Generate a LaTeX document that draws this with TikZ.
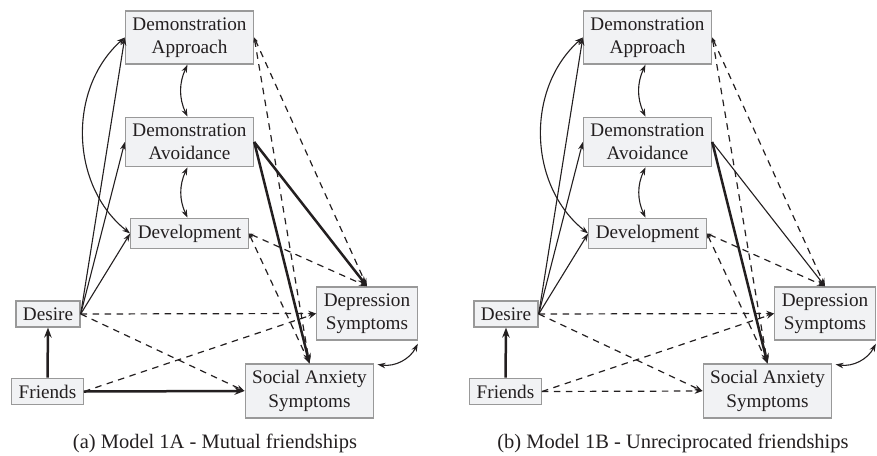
\documentclass[tikz,border=0pt]{standalone}
\usepackage{fontspec}
\setmainfont{Liberation Serif}
\usepackage{tikz}
\usetikzlibrary{arrows.meta}

\definecolor{boxfill}{HTML}{F1F2F4}
\definecolor{boxline}{HTML}{999999}
\definecolor{ink}{HTML}{231F20}

\tikzset{
	>={Stealth[length=8pt,width=5.5pt]},
	var/.style={draw=boxline, fill=boxfill, line width=1.3pt, inner xsep=7pt, inner ysep=6.5pt,
		align=center, text=ink, font=\fontsize{19.2}{23.3}\selectfont},
	caption/.style={text=ink, font=\fontsize{20.5}{24}\selectfont},
	weak/.style={draw=ink, line width=1.1pt, ->},
	strong/.style={draw=ink, line width=2.5pt, -{Stealth[length=10pt,width=7.5pt]}},
	ns/.style={draw=ink, line width=1.2pt, dash pattern=on 6.5pt off 5.5pt, ->},
	nsback/.style={ns, {Stealth[length=5pt,width=3.5pt]}->},
	cov/.style={draw=ink, line width=1.1pt, <->}
}

\begin{document}
\begin{tikzpicture}[x=1pt, y=-1pt]
	\useasboundingbox (0,0) rectangle (877,455);
	
	% (a) mutual friendships
	\node[var] (appA) at (189.5, 37.5) {Demonstration\\Approach};
	\node[var] (avoA) at (189.5, 142) {Demonstration\\Avoidance};
	\node[var] (devA) at (189.5, 233.5) {Development};
	\node[var] (desA) at (48, 314) {Desire};
	\node[var] (friA) at (47.5, 391.5) {Friends};
	\node[var] (depA) at (367, 313.5) {Depression\\Symptoms};
	\node[var] (socA) at (309.5, 391) {Social Anxiety\\Symptoms};
	\node[caption] (capA) at (215, 443) {(a) Model 1A - Mutual friendships};
	
	\draw[strong] (friA.north) -- (desA.south);
	\draw[strong] (friA.east) -- (socA.west);
	\draw[ns] (friA.east) -- (depA.west);
	
	\draw[weak] (desA.east) -- (appA.west);
	\draw[weak] (desA.east) -- (avoA.west);
	\draw[weak] (desA.east) -- (devA.west);
	\draw[ns] (desA.east) -- (depA.west);
	\draw[ns] (desA.east) -- (socA.west);
	
	\draw[cov] (appA.west) to[bend right=50] (devA.west);
	\draw[cov] ([xshift=-2pt]appA.south) to[bend right=25] ([xshift=-2pt]avoA.north);
	\draw[cov] ([xshift=-2pt]avoA.south) to[bend right=25] ([xshift=-2pt]devA.north);
	\draw[cov] ([yshift=-3pt]depA.south east) to[bend left=35] ([xshift=3pt,yshift=-1pt]socA.north east);
	
	\draw[strong] (avoA.east) -- (depA.north);
	\draw[strong] (avoA.east) -- (socA.north);
	\draw[nsback] (appA.east) -- (depA.north);
	\draw[nsback] (appA.east) -- (socA.north);
	\draw[nsback] (devA.east) -- (depA.north);
	\draw[nsback] (devA.east) -- (socA.north);
	
	% (b) unreciprocated friendships
	\begin{scope}[xshift=458pt]
	\node[var] (appB) at (189.5, 37.5) {Demonstration\\Approach};
	\node[var] (avoB) at (189.5, 142) {Demonstration\\Avoidance};
	\node[var] (devB) at (189.5, 233.5) {Development};
	\node[var] (desB) at (48, 314) {Desire};
	\node[var] (friB) at (47.5, 391.5) {Friends};
	\node[var] (depB) at (367, 313.5) {Depression\\Symptoms};
	\node[var] (socB) at (309.5, 391) {Social Anxiety\\Symptoms};
	\node[caption] (capB) at (215, 443) {(b) Model 1B - Unreciprocated friendships};
	
	\draw[strong] (friB.north) -- (desB.south);
	\draw[ns] (friB.east) -- (socB.west);
	\draw[ns] (friB.east) -- (depB.west);
	
	\draw[weak] (desB.east) -- (appB.west);
	\draw[weak] (desB.east) -- (avoB.west);
	\draw[weak] (desB.east) -- (devB.west);
	\draw[ns] (desB.east) -- (depB.west);
	\draw[ns] (desB.east) -- (socB.west);
	
	\draw[cov] (appB.west) to[bend right=50] (devB.west);
	\draw[cov] ([xshift=-2pt]appB.south) to[bend right=25] ([xshift=-2pt]avoB.north);
	\draw[cov] ([xshift=-2pt]avoB.south) to[bend right=25] ([xshift=-2pt]devB.north);
	\draw[cov] ([yshift=-3pt]depB.south east) to[bend left=35] ([xshift=3pt,yshift=-1pt]socB.north east);
	
	\draw[weak] (avoB.east) -- (depB.north);
	\draw[strong] (avoB.east) -- (socB.north);
	\draw[nsback] (appB.east) -- (depB.north);
	\draw[nsback] (appB.east) -- (socB.north);
	\draw[nsback] (devB.east) -- (depB.north);
	\draw[nsback] (devB.east) -- (socB.north);
	\end{scope}
\end{tikzpicture}
\end{document}
